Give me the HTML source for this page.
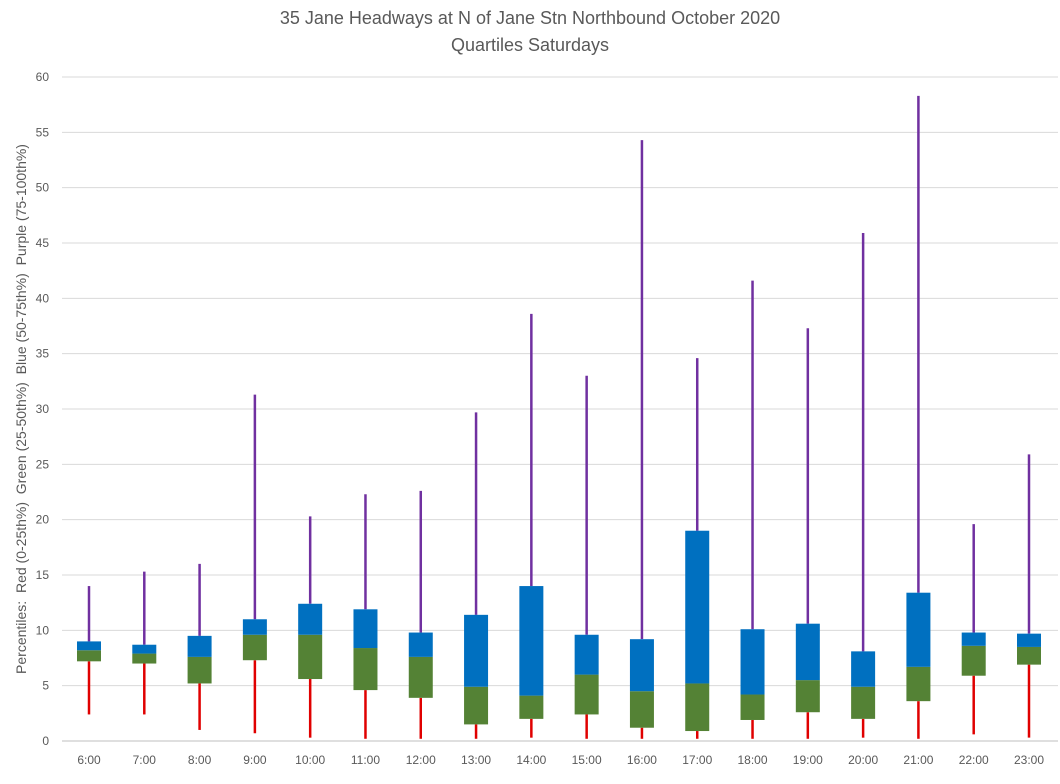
<!DOCTYPE html>
<html><head><meta charset="utf-8"><style>
body{margin:0;background:#fff;font-family:"Liberation Sans",Arial,sans-serif}
svg text{font-family:"Liberation Sans",Arial,sans-serif;fill:#595959}
</style></head><body>
<svg id="chart" width="1060" height="779">
<rect width="1060" height="779" fill="#fff"/>
<text x="530" y="24" text-anchor="middle" font-size="18">35 Jane Headways at N of Jane Stn Northbound October 2020</text>
<text x="530" y="51" text-anchor="middle" font-size="18">Quartiles Saturdays</text>
<text transform="translate(26,409) rotate(-90)" text-anchor="middle" font-size="14" style="white-space:pre">Percentiles:  Red (0-25th%)  Green (25-50th%)  Blue (50-75th%)  Purple (75-100th%)</text>
<g id="grid"></g><g id="marks"></g>
</svg>
<script>
const categories=["6:00","7:00","8:00","9:00","10:00","11:00","12:00","13:00","14:00","15:00","16:00","17:00","18:00","19:00","20:00","21:00","22:00","23:00"];
const minVals=[2.4,2.4,1.0,0.7,0.3,0.2,0.2,0.2,0.3,0.2,0.2,0.2,0.2,0.2,0.3,0.2,0.6,0.3];
const q1Vals=[7.2,7.0,5.2,7.3,5.6,4.6,3.9,1.5,2.0,2.4,1.2,0.9,1.9,2.6,2.0,3.6,5.9,6.9];
const medVals=[8.2,7.9,7.6,9.6,9.6,8.4,7.6,4.9,4.1,6.0,4.5,5.2,4.2,5.5,4.9,6.7,8.6,8.5];
const q3Vals=[9.0,8.7,9.5,11.0,12.4,11.9,9.8,11.4,14.0,9.6,9.2,19.0,10.1,10.6,8.1,13.4,9.8,9.7];
const maxVals=[14.0,15.3,16.0,31.3,20.3,22.3,22.6,29.7,38.6,33.0,54.3,34.6,41.6,37.3,45.9,58.3,19.6,25.9];
const yTicks=[0,5,10,15,20,25,30,35,40,45,50,55,60];
const NS="http://www.w3.org/2000/svg";
const y=v=>741-v*(664/60);
const x=i=>89+i*(940/17);
function mk(t,a,p){const e=document.createElementNS(NS,t);for(const k in a)e.setAttribute(k,a[k]);p.appendChild(e);return e;}
const grid=document.getElementById('grid'),marks=document.getElementById('marks');
yTicks.forEach(t=>{
 const l=mk('line',{x1:62,x2:1058,y1:y(t),y2:y(t),stroke:t===0?'#bfbfbf':'#d9d9d9','stroke-width':1},grid);
 
 
 const tx=mk('text',{x:49,y:y(t)+4,'text-anchor':'end','font-size':12},grid);tx.textContent=t;
 
 
});
categories.forEach((c,i)=>{
 const cx=x(i),w=24;
 const r=mk('line',{x1:cx,x2:cx,y1:y(minVals[i]),y2:y(q1Vals[i]),stroke:'#e00000','stroke-width':2.5},marks);
 
 
 const p=mk('line',{x1:cx,x2:cx,y1:y(maxVals[i]),y2:y(q3Vals[i]),stroke:'#7030a0','stroke-width':2.5},marks);
 
 
 const g=mk('rect',{x:cx-w/2,width:w,y:y(medVals[i]),height:y(q1Vals[i])-y(medVals[i]),fill:'#548235'},marks);
 
 
 const b=mk('rect',{x:cx-w/2,width:w,y:y(q3Vals[i]),height:y(medVals[i])-y(q3Vals[i]),fill:'#0070c0'},marks);
 
 
 const tx=mk('text',{x:cx,y:764,'text-anchor':'middle','font-size':12},marks);tx.textContent=c;
 
 
});
</script>
</body></html>
